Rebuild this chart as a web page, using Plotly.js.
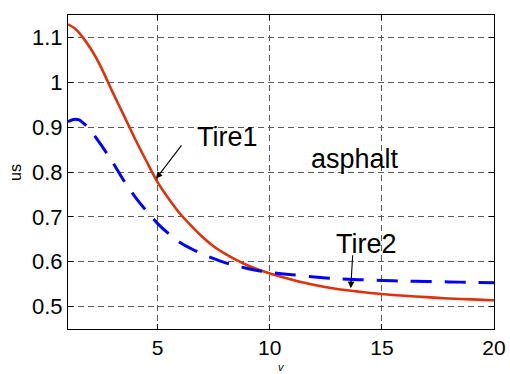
<!DOCTYPE html>
<html>
<head>
<meta charset="utf-8">
<script src="https://cdn.plot.ly/plotly-3.0.1.min.js"></script>
<style>
html, body { margin: 0; padding: 0; background: #fff; }
#chart { width: 510px; height: 374px; }
</style>
</head>
<body>
<div id="chart"></div>
<script>
// Data
const tire1X = [1, 1.25, 1.5, 1.75, 2, 2.25, 2.5, 2.75, 3, 3.5, 4, 4.5, 5, 5.5, 6, 6.5, 7, 7.5, 8, 8.5, 9, 9.5, 10, 11, 12, 13, 14, 15, 16, 17, 18, 19, 20];
const tire1Y = [1.129, 1.122, 1.110, 1.094, 1.076, 1.055, 1.031, 1.004, 0.977, 0.925, 0.873, 0.824, 0.777, 0.740, 0.707, 0.680, 0.655, 0.634, 0.618, 0.604, 0.592, 0.582, 0.574, 0.560, 0.548, 0.539, 0.533, 0.528, 0.524, 0.521, 0.518, 0.516, 0.514];

const tire2X = [1, 1.25, 1.5, 1.75, 2, 2.5, 3, 3.5, 4, 4.5, 5, 5.5, 6, 6.5, 7, 7.5, 8, 8.5, 9, 9.5, 10, 11, 12, 13, 14, 15, 16, 17, 18, 19, 20];
const tire2Y = [0.912, 0.917, 0.916, 0.906, 0.893, 0.859, 0.821, 0.780, 0.744, 0.713, 0.685, 0.662, 0.643, 0.629, 0.617, 0.607, 0.598, 0.591, 0.585, 0.580, 0.576, 0.571, 0.566, 0.562, 0.560, 0.558, 0.557, 0.556, 0.555, 0.554, 0.553];

const xTicks = [5, 10, 15, 20];
const yTicks = [0.5, 0.6, 0.7, 0.8, 0.9, 1, 1.1];
const yTickText = ['0.5', '0.6', '0.7', '0.8', '0.9', '1', '1.1'];

const FONT = 'Arial, "Liberation Sans", sans-serif';

const traces = [
  {
    x: tire1X, y: tire1Y, type: 'scatter', mode: 'lines', name: 'Tire1',
    line: { color: '#e0300c', width: 2.6, shape: 'spline', smoothing: 0.8 }
  },
  {
    x: tire2X, y: tire2Y, type: 'scatter', mode: 'lines', name: 'Tire2',
    line: { color: '#0000ff', width: 3, dash: '21px,13px', shape: 'spline', smoothing: 0.6 }
  }
];

const axisCommon = {
  showline: true, linecolor: '#000', linewidth: 1,
  mirror: 'ticks', ticks: 'inside', ticklen: 5, tickcolor: '#000',
  showgrid: true, gridcolor: '#5a5a5a', gridwidth: 1, griddash: '6px,4px',
  zeroline: false,
  tickfont: { family: FONT, size: 22, color: '#000' }
};

const layout = {
  width: 510, height: 374,
  margin: { l: 68, r: 16, t: 15, b: 45 },
  paper_bgcolor: '#fff', plot_bgcolor: '#fff',
  showlegend: false,
  xaxis: Object.assign({}, axisCommon, {
    range: [1, 20], tickmode: 'array', tickvals: xTicks, ticktext: xTicks.map(String),
    tickfont: { family: FONT, size: 21, color: '#000' }
  }),
  yaxis: Object.assign({}, axisCommon, {
    range: [0.45, 1.15], tickmode: 'array', tickvals: yTicks, ticktext: yTickText
  }),
  annotations: [
    { xref: 'x', yref: 'y', x: 4.925, y: 0.785, ax: 26, ay: -34, text: ' ', font: { size: 1 }, borderpad: 0,
      showarrow: true, arrowhead: 2, arrowsize: 1.2, arrowwidth: 1.1, arrowcolor: '#000', standoff: 0 },
    { xref: 'x', yref: 'y', x: 13.61, y: 0.541, ax: 2, ay: -34, text: ' ', font: { size: 1 }, borderpad: 0,
      showarrow: true, arrowhead: 2, arrowsize: 1.2, arrowwidth: 1.1, arrowcolor: '#000', standoff: 0 },
    { xref: 'paper', yref: 'paper', x: (227 - 68) / 426, y: (329 - 137) / 314, text: 'Tire1',
      showarrow: false, xanchor: 'center', yanchor: 'middle', font: { family: FONT, size: 27, color: '#000' } },
    { xref: 'paper', yref: 'paper', x: (366 - 68) / 426, y: (329 - 244) / 314, text: 'Tire2',
      showarrow: false, xanchor: 'center', yanchor: 'middle', font: { family: FONT, size: 27, color: '#000' } },
    { xref: 'paper', yref: 'paper', x: (355 - 68) / 426, y: (329 - 159) / 314, text: 'asphalt',
      showarrow: false, xanchor: 'center', yanchor: 'middle', font: { family: FONT, size: 27, color: '#000' } },
    { xref: 'paper', yref: 'paper', x: 0, xshift: -53, y: (329 - 173) / 314, text: 'us', textangle: -90,
      showarrow: false, xanchor: 'center', yanchor: 'middle', font: { family: FONT, size: 16, color: '#000' } },
    { xref: 'paper', yref: 'paper', x: 0.5, y: 0, yshift: -45, text: '<i>v</i>', borderpad: 0,
      showarrow: false, xanchor: 'center', yanchor: 'bottom', font: { family: FONT, size: 11, color: '#000' } }
  ]
};

Plotly.newPlot('chart', traces, layout, { staticPlot: true, displayModeBar: false });
</script>
</body>
</html>
